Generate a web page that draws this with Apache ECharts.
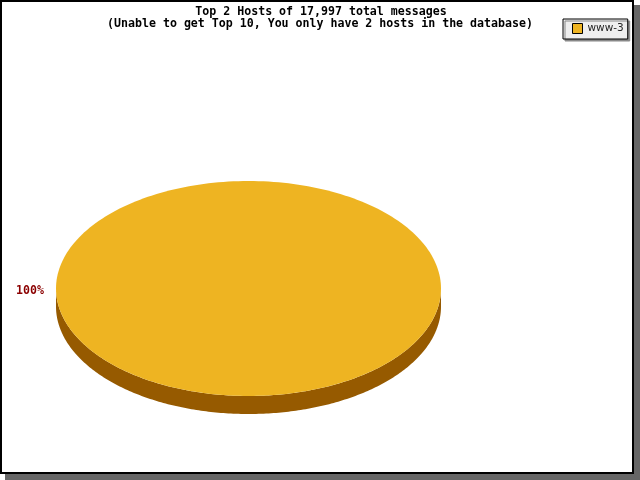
<!DOCTYPE html>
<html>
<head>
<meta charset="utf-8">
<script src="https://cdn.jsdelivr.net/npm/echarts@6/dist/echarts.min.js"></script>
<style>
html,body{margin:0;padding:0;background:#fff;}
#chart{width:640px;height:480px;}
</style>
</head>
<body>
<div id="chart"></div>
<script>
const titleText = 'Top 2 Hosts of 17,997 total messages';
const subtitleText = '(Unable to get Top 10, You only have 2 hosts in the database)';
const hosts = ['www-3'];
const counts = [17997];
const colors = ['#EEB422'];
const sideColors = ['#965A00'];

const total = counts.reduce((a, b) => a + b, 0);
const cx = 248.5, cy = 288.5, rx = 192.5, ry = 107.5, depth = 18;
const mono = '"DejaVu Sans Mono", monospace';

function pt(a, dy) {
  return [cx + rx * Math.cos(a), cy - ry * Math.sin(a) + (dy || 0)];
}

function makeRender(i) {
  return function (params, api) {
    let cum = 0;
    for (let k = 0; k < i; k++) cum += counts[k];
    const a0 = 2 * Math.PI * cum / total;
    const a1 = a0 + 2 * Math.PI * api.value(0) / total;
    const N = 240;
    const children = [];
    [[Math.PI, 2 * Math.PI], [3 * Math.PI, 4 * Math.PI]].forEach(r => {
      const s = Math.max(a0, r[0]), e = Math.min(a1, r[1]);
      if (e > s) {
        const pts = [];
        for (let j = 0; j <= N; j++) pts.push(pt(s + (e - s) * j / N, 0));
        for (let j = N; j >= 0; j--) pts.push(pt(s + (e - s) * j / N, depth));
        children.push({ type: 'polygon', shape: { points: pts }, style: { fill: sideColors[i] } });
      }
    });
    const top = [];
    const full = (a1 - a0) >= 2 * Math.PI - 1e-9;
    if (!full) top.push([cx, cy]);
    for (let j = 0; j <= N; j++) top.push(pt(a0 + (a1 - a0) * j / N, 0));
    children.push({ type: 'polygon', shape: { points: top }, style: { fill: colors[i] } });
    const mid = (a0 + a1) / 2;
    const lp = pt(mid, 0);
    const c = Math.cos(mid);
    const pct = Math.round(api.value(0) / total * 100) + '%';
    children.push({
      type: 'text',
      style: {
        text: pct,
        x: lp[0] + (c < -0.01 ? -12 : c > 0.01 ? 12 : 0),
        y: lp[1] + 2,
        fill: '#8B0000',
        font: 'bold 11.6px ' + mono,
        align: c < -0.01 ? 'right' : c > 0.01 ? 'left' : 'center',
        verticalAlign: 'middle'
      }
    });
    return { type: 'group', children: children };
  };
}

const chart = echarts.init(document.getElementById('chart'), null, { renderer: 'canvas' });
chart.setOption({
  animation: false,
  graphic: [
    { type: 'rect', z: 0, shape: { x: 5, y: 5, width: 635, height: 475 }, style: { fill: '#666666' } },
    { type: 'rect', z: 1, shape: { x: 1, y: 1, width: 632, height: 472 }, style: { fill: '#ffffff', stroke: '#000', lineWidth: 2 } }
  ],
  title: [
    { text: titleText, left: 321, top: 5, textAlign: 'center', padding: 0,
      textStyle: { fontFamily: mono, fontWeight: 'bold', fontSize: 11.6, lineHeight: 13, color: '#000' } },
    { text: subtitleText, left: 320, top: 17, textAlign: 'center', padding: 0,
      textStyle: { fontFamily: mono, fontWeight: 'bold', fontSize: 11.6, lineHeight: 13, color: '#000' } }
  ],
  legend: {
    data: hosts,
    left: 563, top: 19,
    orient: 'vertical',
    icon: 'rect',
    itemWidth: 10, itemHeight: 10,
    padding: [4, 4, 5, 9],
    backgroundColor: '#EEEEEE',
    borderColor: '#000', borderWidth: 1,
    borderRadius: 0,
    shadowColor: '#888', shadowOffsetX: 2, shadowOffsetY: 2, shadowBlur: 0,
    itemStyle: { borderColor: '#000', borderWidth: 1 },
    textStyle: { fontFamily: 'DejaVu Sans', fontSize: 10.5, color: '#222' }
  },
  series: hosts.map((h, i) => ({
    type: 'custom',
    name: h,
    coordinateSystem: 'none',
    color: colors[i],
    itemStyle: { color: colors[i] },
    data: [counts[i]],
    renderItem: makeRender(i)
  }))
});
</script>
</body>
</html>
